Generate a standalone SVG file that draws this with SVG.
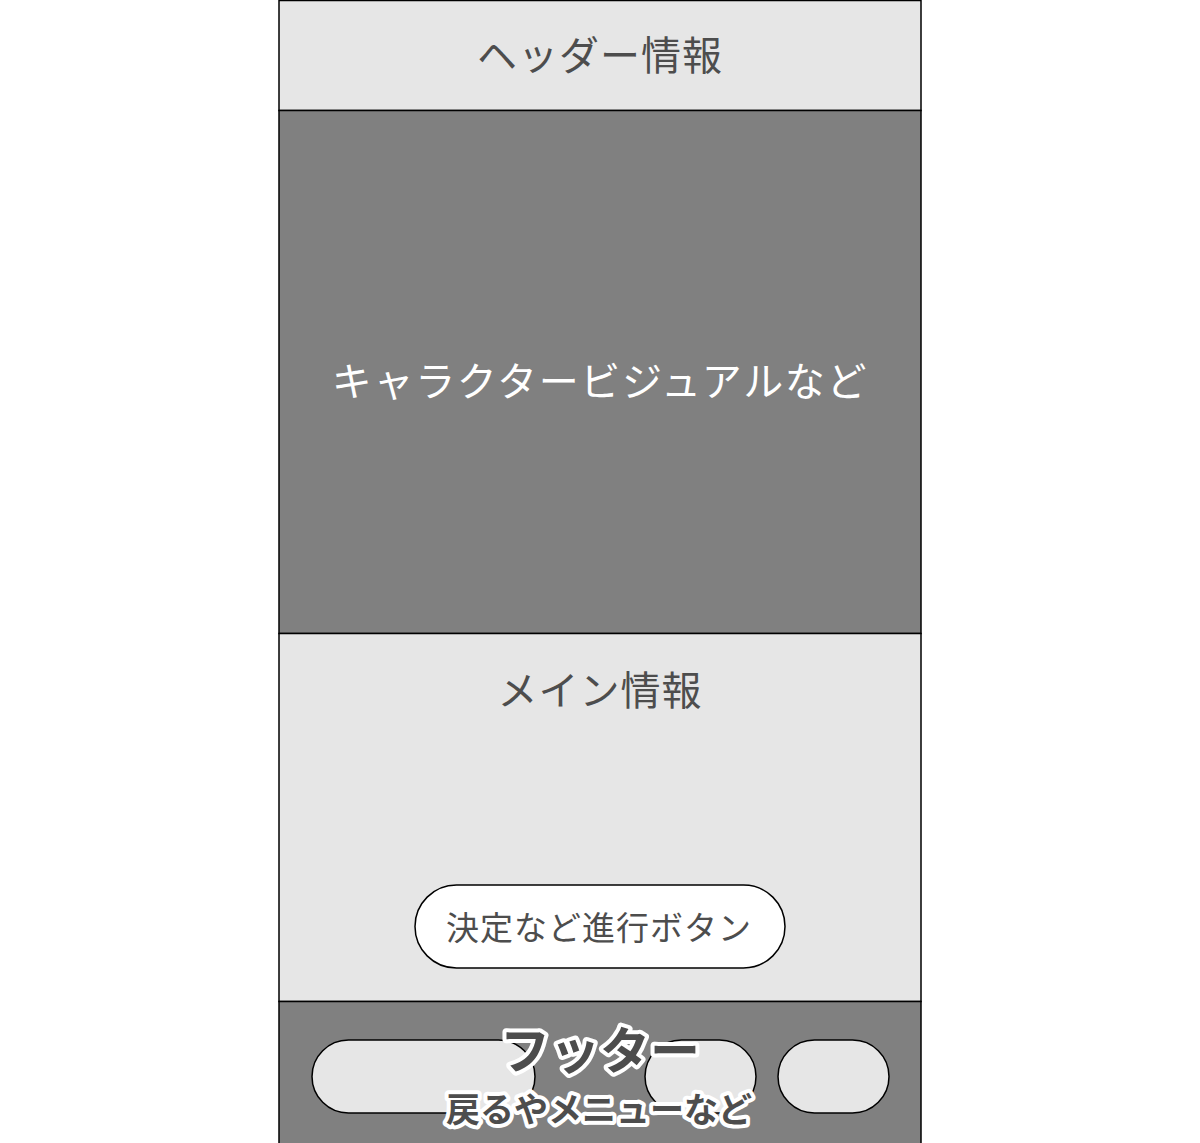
<svg xmlns="http://www.w3.org/2000/svg" width="1200" height="1143" viewBox="0 0 1200 1143">
<style>
.box{stroke:#000;stroke-width:1.5}
.light{fill:#e6e6e6}
.dark{fill:#808080}
.t{font-family:"Noto Sans CJK JP","Noto Sans",sans-serif;text-anchor:middle}
.g{fill:#4d4d4d}
.w{fill:#fff}
.o{fill:#4d4d4d;stroke:#fff;stroke-width:8;paint-order:stroke;stroke-linejoin:round;font-weight:bold}
</style>
<rect width="1200" height="1143" fill="#fff"/>
<g id="header">
<rect class="box light" x="279" y="0.5" width="642" height="110"/>
<text class="t g" x="600" y="70" font-size="40" letter-spacing="1">ヘッダー情報</text>
</g>
<g id="visual">
<rect class="box dark" x="279" y="110.5" width="642" height="523"/>
<text class="t w" x="600" y="396" font-size="40" letter-spacing="1.7">キャラクタービジュアルなど</text>
</g>
<g id="main">
<rect class="box light" x="279" y="633.5" width="642" height="368"/>
<text class="t g" x="600" y="705" font-size="40" letter-spacing="1">メイン情報</text>
</g>
<g id="button">
<rect class="box" fill="#fff" x="415" y="885" width="370" height="83" rx="41.5"/>
<text class="t g" x="599" y="940" font-size="33" letter-spacing="1">決定など進行ボタン</text>
</g>
<g id="footer">
<rect class="box dark" x="279" y="1001.5" width="642" height="143"/>
<rect class="box light" x="312" y="1040" width="223" height="73" rx="36.5"/>
<rect class="box light" x="645" y="1040" width="111" height="73" rx="36.5"/>
<rect class="box light" x="778" y="1040" width="111" height="73" rx="36.5"/>
<text class="t o" x="600" y="1069" font-size="50">フッター</text>
<text class="t o" x="599" y="1122" font-size="34">戻るやメニューなど</text>
</g>
<g id="connectors"/>
</svg>
